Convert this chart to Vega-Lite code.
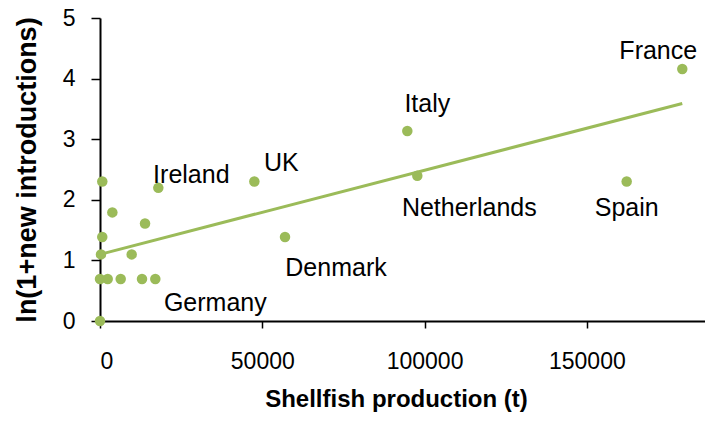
{
  "$schema": "https://vega.github.io/schema/vega-lite/v6.json",
  "autosize": {"type": "none"},
  "padding": {"left": 100, "top": 18, "right": 0, "bottom": 105},
  "width": 605,
  "height": 303,
  "background": "white",
  "config": {
    "view": {"stroke": null},
    "font": "Liberation Sans",
    "axis": {"grid": false, "domainColor": "#000000", "domainWidth": 2, "tickColor": "#000000", "tickWidth": 1.5, "labelColor": "#000000", "titleColor": "#000000", "labelFont": "Liberation Sans", "titleFont": "Liberation Sans", "labelFontSize": 23, "titleFontSize": 24, "titleFontWeight": "bold"}
  },
  "datasets": {
    "points": [
      {"production": 0, "intro": 0, "country": ""},
      {"production": 0, "intro": 0.693, "country": ""},
      {"production": 2370, "intro": 0.693, "country": ""},
      {"production": 6380, "intro": 0.693, "country": ""},
      {"production": 12940, "intro": 0.693, "country": ""},
      {"production": 17040, "intro": 0.693, "country": "Germany"},
      {"production": 300, "intro": 1.099, "country": ""},
      {"production": 9760, "intro": 1.099, "country": ""},
      {"production": 700, "intro": 2.303, "country": ""},
      {"production": 3800, "intro": 1.792, "country": ""},
      {"production": 700, "intro": 1.386, "country": ""},
      {"production": 17970, "intro": 2.197, "country": "Ireland"},
      {"production": 47550, "intro": 2.303, "country": "UK"},
      {"production": 13870, "intro": 1.609, "country": ""},
      {"production": 57000, "intro": 1.386, "country": "Denmark"},
      {"production": 94680, "intro": 3.135, "country": "Italy"},
      {"production": 97760, "intro": 2.398, "country": "Netherlands"},
      {"production": 179400, "intro": 4.159, "country": "France"},
      {"production": 162270, "intro": 2.303, "country": "Spain"}
    ],
    "trend": [
      {"production": 0, "intro": 1.1},
      {"production": 179400, "intro": 3.59}
    ]
  },
  "encoding": {
    "x": {"field": "production", "type": "quantitative",
      "scale": {"domain": [0, 186400], "nice": false, "zero": false},
      "axis": {"values": [0, 50000, 100000, 150000], "format": "d", "tickSize": 7, "labelPadding": 22, "title": "Shellfish production (t)", "titlePadding": 14, "titleX": 296}},
    "y": {"field": "intro", "type": "quantitative",
      "scale": {"domain": [0, 5], "nice": false},
      "axis": {"values": [0, 1, 2, 3, 4, 5], "tickSize": 9, "labelPadding": 16, "title": "ln(1+new introductions)", "titleFontSize": 27, "titlePadding": 21}}
  },
  "layer": [
    {"data": {"name": "trend"}, "mark": {"type": "line", "color": "#9BBB59", "strokeWidth": 3, "clip": false}},
    {"data": {"name": "points"}, "mark": {"type": "circle", "color": "#9BBB59", "opacity": 1, "size": 110, "clip": false}},
    {"data": {"name": "points"}, "transform": [{"filter": "datum.country === 'France'"}], "mark": {"type": "text", "fontSize": 25, "color": "#000", "align": "center", "baseline": "middle", "dx": -24, "dy": -18}, "encoding": {"text": {"field": "country"}}},
    {"data": {"name": "points"}, "transform": [{"filter": "datum.country === 'Spain'"}], "mark": {"type": "text", "fontSize": 25, "color": "#000", "align": "center", "baseline": "middle", "dx": 0, "dy": 27}, "encoding": {"text": {"field": "country"}}},
    {"data": {"name": "points"}, "transform": [{"filter": "datum.country === 'Italy'"}], "mark": {"type": "text", "fontSize": 25, "color": "#000", "align": "center", "baseline": "middle", "dx": 20, "dy": -27}, "encoding": {"text": {"field": "country"}}},
    {"data": {"name": "points"}, "transform": [{"filter": "datum.country === 'UK'"}], "mark": {"type": "text", "fontSize": 25, "color": "#000", "align": "center", "baseline": "middle", "dx": 27, "dy": -18}, "encoding": {"text": {"field": "country"}}},
    {"data": {"name": "points"}, "transform": [{"filter": "datum.country === 'Netherlands'"}], "mark": {"type": "text", "fontSize": 25, "color": "#000", "align": "center", "baseline": "middle", "dx": 52, "dy": 32}, "encoding": {"text": {"field": "country"}}},
    {"data": {"name": "points"}, "transform": [{"filter": "datum.country === 'Denmark'"}], "mark": {"type": "text", "fontSize": 25, "color": "#000", "align": "center", "baseline": "middle", "dx": 51, "dy": 31}, "encoding": {"text": {"field": "country"}}},
    {"data": {"name": "points"}, "transform": [{"filter": "datum.country === 'Ireland'"}], "mark": {"type": "text", "fontSize": 25, "color": "#000", "align": "center", "baseline": "middle", "dx": 33, "dy": -12.5}, "encoding": {"text": {"field": "country"}}},
    {"data": {"name": "points"}, "transform": [{"filter": "datum.country === 'Germany'"}], "mark": {"type": "text", "fontSize": 25, "color": "#000", "align": "center", "baseline": "middle", "dx": 60, "dy": 23.5}, "encoding": {"text": {"field": "country"}}}
  ]
}
